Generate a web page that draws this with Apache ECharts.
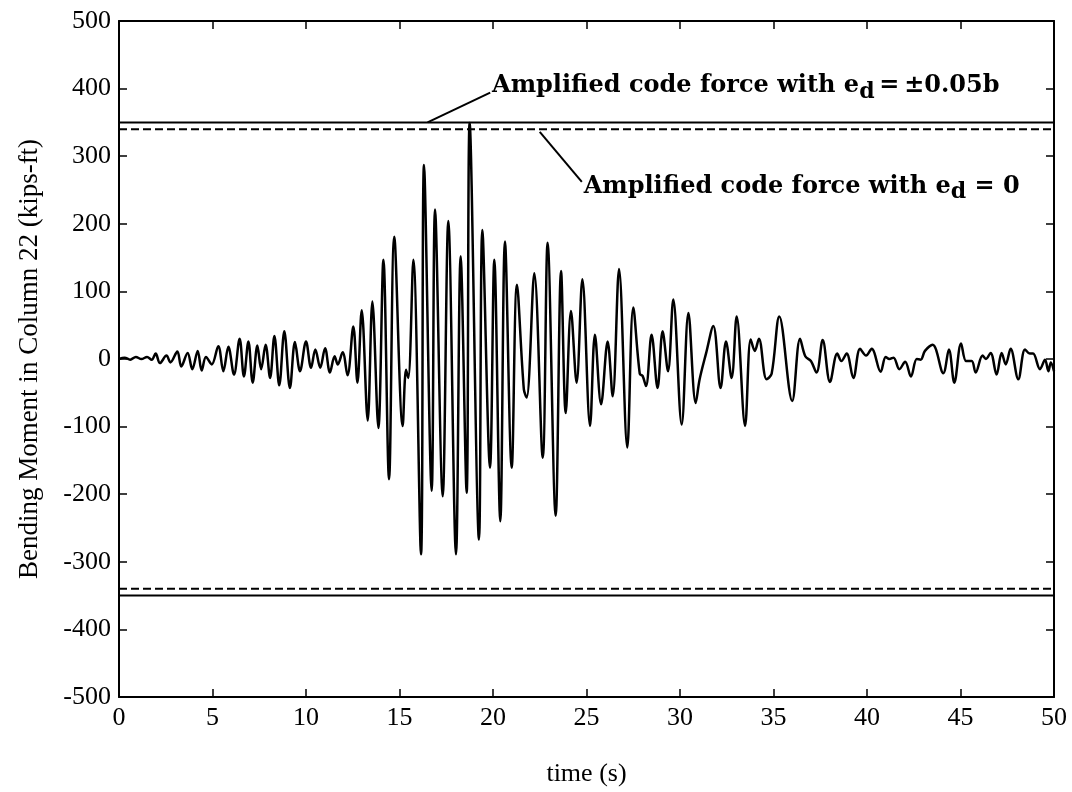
<!DOCTYPE html>
<html>
<head>
<meta charset="utf-8">
<title>Bending Moment in Column 22</title>
<script src="https://cdn.jsdelivr.net/npm/echarts@6/dist/echarts.min.js"></script>
<style>
  html, body { margin: 0; padding: 0; background: #fff; }
  #chart { width: 1072px; height: 792px; }
</style>
</head>
<body>
<div id="chart"></div>
<script>
// time history (peaks / troughs)
const timeS = [
  0.0, 0.3, 0.6, 0.9, 1.2, 1.5, 1.75, 1.96, 2.19, 2.54, 2.75, 3.12, 3.33, 3.67, 3.92, 4.21, 4.42, 4.65, 4.96,
  5.31, 5.58, 5.85, 6.15, 6.45, 6.68, 6.92, 7.15, 7.40, 7.60, 7.84, 8.08, 8.31, 8.57, 8.84, 9.14, 9.41, 9.68,
  10.0, 10.27, 10.5, 10.76, 11.02, 11.28, 11.53, 11.7, 11.96, 12.22, 12.53, 12.75, 12.98, 13.30, 13.55, 13.87,
  14.14, 14.44, 14.72, 15.17, 15.35, 15.47, 15.74, 16.15, 16.31, 16.72, 16.90, 17.31, 17.61, 18.02, 18.27,
  18.59, 18.75, 19.25, 19.43, 19.84, 20.07, 20.39, 20.64, 21.0, 21.28, 21.65, 21.80, 22.21, 22.66, 22.92,
  23.35, 23.64, 23.89, 24.17, 24.47, 24.78, 25.19, 25.45, 25.78, 26.13, 26.40, 26.74, 27.18, 27.50, 27.85,
  28.0, 28.18, 28.48, 28.80, 29.07, 29.36, 29.64, 30.09, 30.45, 30.84, 31.05, 31.4, 31.78, 32.17, 32.46,
  32.76, 33.03, 33.48, 33.78, 34.0, 34.22, 34.63, 34.9, 35.31, 36.0, 36.42, 36.7, 37.0, 37.3, 37.63, 38.02,
  38.41, 38.63, 38.91, 39.27, 39.63, 39.95, 40.25, 40.73, 41.0, 41.2, 41.42, 41.73, 42.04, 42.35, 42.66,
  42.87, 43.1, 43.51, 44.08, 44.38, 44.67, 45.03, 45.3, 45.6, 45.81, 46.18, 46.36, 46.61, 46.93, 47.2,
  47.42, 47.68, 48.09, 48.45, 48.7, 48.88, 49.25, 49.52, 49.7, 49.83, 50.0
];
const momentKipFt = [
  0, 2, -1, 3, 0, 3, -1, 8, -6, 5, -5, 11, -11, 9, -15, 12, -17, 3, -8,
  19, -18, 18, -23, 30, -26, 26, -35, 20, -15, 21, -28, 34, -39, 41, -43, 25, -18,
  26, -13, 14, -13, 16, -20, 4, -8, 10, -24, 48, -35, 72, -91, 85, -102,
  147, -178, 181, -99, -16, -28, 147, -289, 287, -195, 221, -203, 204, -289, 152,
  -198, 349, -267, 191, -161, 147, -240, 174, -161, 110, -45, -57, 127, -146, 172,
  -232, 130, -80, 71, -35, 118, -99, 36, -67, 26, -55, 133, -131, 76, -22,
  -25, -40, 36, -43, 41, -18, 88, -97, 68, -65, -30, 9, 49, -43, 26,
  -28, 63, -99, 29, 12, 30, -30, -22, 63, -62, 30, 4, -3, -20, 28, -34,
  8, -3, 8, -28, 15, 5, 15, -19, 3, 0, 2, -15, -4, -26, 0,
  -1, 12, 21, -21, 14, -35, 23, -3, -3, -20, 5, 0, 9, -23, 9,
  -8, 15, -30, 14, 8, 8, -15, -1, -18, -5, -18
];

// amplified code force limits (kips-ft)
const codeForceEcc = [350, -350];   // e_d = ±0.05b, solid
const codeForceNoEcc = [340, -340]; // e_d = 0, dashed
const timeRange = [0, 50];

const serif = "'Liberation Serif', 'Times New Roman', serif";
const boldSerif = "'DejaVu Serif', serif";

const chart = echarts.init(document.getElementById("chart"));

function frameAxis(pos, withLabels, extra) {
  return Object.assign({
    type: "value",
    position: pos,
    axisLine: { show: true, onZero: false, lineStyle: { color: "#000", width: 2 } },
    axisTick: { show: true, inside: true, length: 8, lineStyle: { color: "#000", width: 1.5 } },
    axisLabel: withLabels
      ? { show: true, color: "#000", fontFamily: serif, fontSize: 26, showMinLabel: true, showMaxLabel: true }
      : { show: false },
    splitLine: { show: false },
  }, extra);
}

const limitSeries = [];
codeForceEcc.forEach((v) => {
  limitSeries.push({
    type: "line",
    data: timeRange.map((t) => [t, v]),
    symbol: "none",
    silent: true,
    lineStyle: { color: "#000", width: 2 },
  });
});
codeForceNoEcc.forEach((v) => {
  limitSeries.push({
    type: "line",
    data: timeRange.map((t) => [t, v]),
    symbol: "none",
    silent: true,
    lineStyle: { color: "#000", width: 2, type: [8, 4] },
  });
});

chart.setOption({
  animation: false,
  backgroundColor: "#fff",
  grid: { left: 119, right: 18, top: 21, bottom: 94 },
  xAxis: [
    frameAxis("bottom", true, {
      min: 0, max: 50, interval: 5,
      name: "time (s)", nameLocation: "middle", nameGap: 64,
      nameTextStyle: { color: "#000", fontFamily: serif, fontSize: 26 },
    }),
    frameAxis("top", false, { min: 0, max: 50, interval: 5 }),
  ],
  yAxis: [
    frameAxis("left", true, {
      min: -500, max: 500, interval: 100,
      name: "Bending Moment in Column 22 (kips-ft)", nameLocation: "middle", nameGap: 76,
      nameTextStyle: { color: "#000", fontFamily: serif, fontSize: 27 },
    }),
    frameAxis("right", false, { min: -500, max: 500, interval: 100 }),
  ],
  series: [
    {
      type: "line",
      data: timeS.map((t, i) => [t, momentKipFt[i]]),
      symbol: "none",
      smooth: 0.35,
      lineStyle: { color: "#000", width: 2.5 },
    },
  ].concat(limitSeries),
});

// annotations with leader lines, anchored in data space
const notes = [
  { from: [16.5, 350], to: [19.85, 394], text: [19.95, 404], rest: "\u2009=\u2009±0.05b" },
  { from: [22.5, 336], to: [24.75, 262], text: [24.85, 255], rest: " = 0" },
];
const px = (p) => chart.convertToPixel({ xAxisIndex: 0, yAxisIndex: 0 }, p);
const graphics = [];
notes.forEach((n) => {
  const a = px(n.from), b = px(n.to), c = px(n.text);
  graphics.push({
    type: "line",
    shape: { x1: a[0], y1: a[1], x2: b[0], y2: b[1] },
    style: { stroke: "#000", lineWidth: 2 },
  });
  graphics.push({
    type: "text",
    x: c[0], y: c[1],
    style: {
      text: "{m|Amplified code force with e}{d|d}{m|" + n.rest + "}",
      verticalAlign: "middle",
      rich: {
        m: { fontFamily: boldSerif, fontWeight: "bold", fontSize: 24, lineHeight: 34, fill: "#000" },
        d: { fontFamily: boldSerif, fontWeight: "bold", fontSize: 22, lineHeight: 34, verticalAlign: "bottom", fill: "#000" },
      },
    },
  });
});
chart.setOption({ graphic: graphics });
</script>
</body>
</html>
